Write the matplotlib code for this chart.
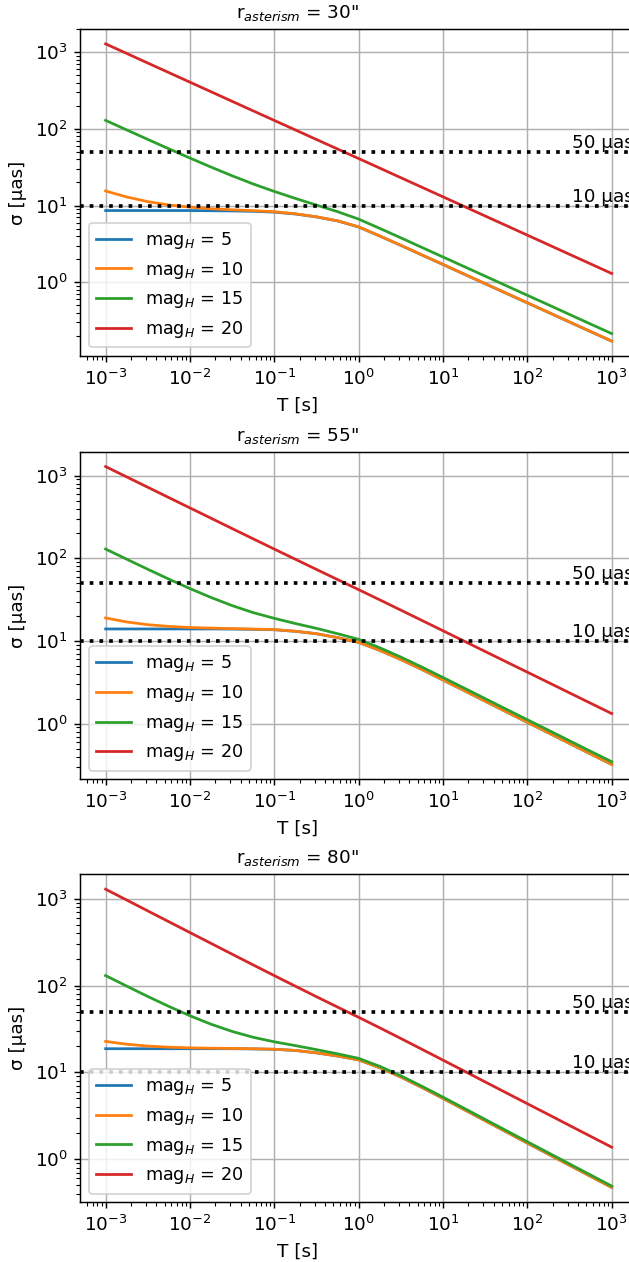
import matplotlib
matplotlib.use("Agg")
import matplotlib.pyplot as plt

# exposure time grid [s]
T = [0.001, 0.00178, 0.00316, 0.00562, 0.01, 0.0178, 0.0316, 0.0562, 0.1,
     0.178, 0.316, 0.562, 1.0, 1.78, 3.16, 5.62, 10.0, 17.8, 31.6, 56.2,
     100.0, 178.0, 316.0, 562.0, 1000.0]

radii = ['30', '55', '80']
mags = [5, 10, 15, 20]

# r = 30"
s30_m5 = [8.6, 8.6, 8.6, 8.6, 8.6, 8.55, 8.5, 8.4, 8.2, 7.75, 7.1, 6.3, 5.25,
          4.0, 3.02, 2.265, 1.70, 1.273, 0.955, 0.716, 0.537, 0.403, 0.302, 0.2265, 0.170]
s30_m10 = [15.49, 12.93, 11.25, 10.17, 9.52, 9.08, 8.80, 8.57, 8.30, 7.81, 7.14, 6.32, 5.27,
           4.01, 3.03, 2.27, 1.705, 1.277, 0.958, 0.718, 0.539, 0.404, 0.303, 0.227, 0.1705]
s30_m15 = [129.1, 96.97, 72.97, 54.99, 41.64, 31.72, 24.44, 19.12, 15.27, 12.38, 10.14, 8.32, 6.65,
           5.03, 3.79, 2.84, 2.13, 1.598, 1.199, 0.899, 0.674, 0.506, 0.379, 0.284, 0.2133]
s30_m20 = [1287.2, 965.3, 723.9, 542.9, 407.1, 305.3, 229.1, 171.9, 129.0, 96.84, 72.73, 54.64, 41.04,
           30.79, 23.09, 17.32, 12.98, 9.74, 7.30, 5.48, 4.106, 3.079, 2.309, 1.732, 1.298]

# r = 55"
s55_m5 = [14.0, 14.0, 14.0, 14.0, 14.0, 14.0, 13.95, 13.85, 13.7, 13.1, 12.25, 11.0, 9.64,
          7.71, 5.98, 4.53, 3.38, 2.52, 1.875, 1.395, 1.04, 0.776, 0.578, 0.431, 0.322]
s55_m10 = [19.03, 17.01, 15.76, 15.02, 14.58, 14.33, 14.14, 13.96, 13.76, 13.13, 12.27, 11.01, 9.65,
           7.72, 5.98, 4.53, 3.382, 2.52, 1.876, 1.396, 1.041, 0.777, 0.578, 0.431, 0.322]
s55_m15 = [129.6, 97.6, 73.8, 56.09, 43.08, 33.6, 26.83, 22.06, 18.81, 16.28, 14.23, 12.27, 10.47,
           8.29, 6.40, 4.84, 3.62, 2.70, 2.01, 1.497, 1.117, 0.834, 0.622, 0.464, 0.347]
s55_m20 = [1287.3, 965.4, 724.0, 543.0, 407.3, 305.6, 229.3, 172.2, 129.4, 97.41, 73.42, 55.39, 41.83,
           31.48, 23.66, 17.75, 13.31, 9.977, 7.478, 5.605, 4.201, 3.150, 2.361, 1.770, 1.327]

# r = 80"
s80_m5 = [18.7, 18.7, 18.7, 18.7, 18.7, 18.7, 18.7, 18.6, 18.4, 17.85, 16.75, 15.4, 13.9,
          11.30, 8.83, 6.69, 5.01, 3.725, 2.77, 2.06, 1.53, 1.14, 0.85, 0.633, 0.472]
s80_m10 = [22.71, 21.05, 20.05, 19.47, 19.14, 18.95, 18.84, 18.68, 18.45, 17.88, 16.77, 15.41, 13.91,
           11.30, 8.83, 6.69, 5.01, 3.725, 2.77, 2.06, 1.53, 1.14, 0.85, 0.633, 0.472]
s80_m15 = [130.2, 98.39, 74.83, 57.44, 44.83, 35.81, 29.58, 25.32, 22.46, 20.30, 18.25, 16.33, 14.48,
           11.71, 9.12, 6.91, 5.17, 3.85, 2.863, 2.131, 1.583, 1.180, 0.880, 0.656, 0.489]
s80_m20 = [1287.3, 965.5, 724.1, 543.2, 407.5, 305.8, 229.7, 172.7, 130.0, 98.17, 74.30, 56.43, 43.01,
           32.55, 24.54, 18.42, 13.81, 10.35, 7.751, 5.806, 4.349, 3.259, 2.442, 1.830, 1.371]

series = [
    [s30_m5, s30_m10, s30_m15, s30_m20],
    [s55_m5, s55_m10, s55_m15, s55_m20],
    [s80_m5, s80_m10, s80_m15, s80_m20],
]

limits = [50, 10]
limit_labels = ['50 µas', '10 µas']

DPI = 132
fig = plt.figure(figsize=(629 / DPI, 1262 / DPI), dpi=DPI)

W, H = 629.0, 1262.0
ax_left, ax_right = 80.3, 637.0
tops = [29.0, 451.7, 874.3]
bottoms = [356.0, 779.3, 1202.3]

for i, r in enumerate(radii):
    ax = fig.add_axes([ax_left / W, 1 - bottoms[i] / H,
                       (ax_right - ax_left) / W, (bottoms[i] - tops[i]) / H])
    for m, y in zip(mags, series[i]):
        ax.plot(T, y, label='mag$_H$ = %d' % m)
    ax.set_xscale('log')
    ax.set_yscale('log')
    for lv, lt in zip(limits, limit_labels):
        ax.axhline(lv, color='k', linestyle=':', linewidth=2)
        ax.text(340, lv, lt, va='bottom', ha='left', fontsize=10)
    ax.grid(True)
    ax.legend(loc='lower left', fontsize=9.6)
    ax.set_title('r$_{asterism}$ = %s"' % r, fontsize=10, x=0.391)
    ax.set_xlabel('T [s]', x=0.391)
    ax.set_ylabel('σ [µas]')

fig.savefig('out.png', dpi=DPI)
